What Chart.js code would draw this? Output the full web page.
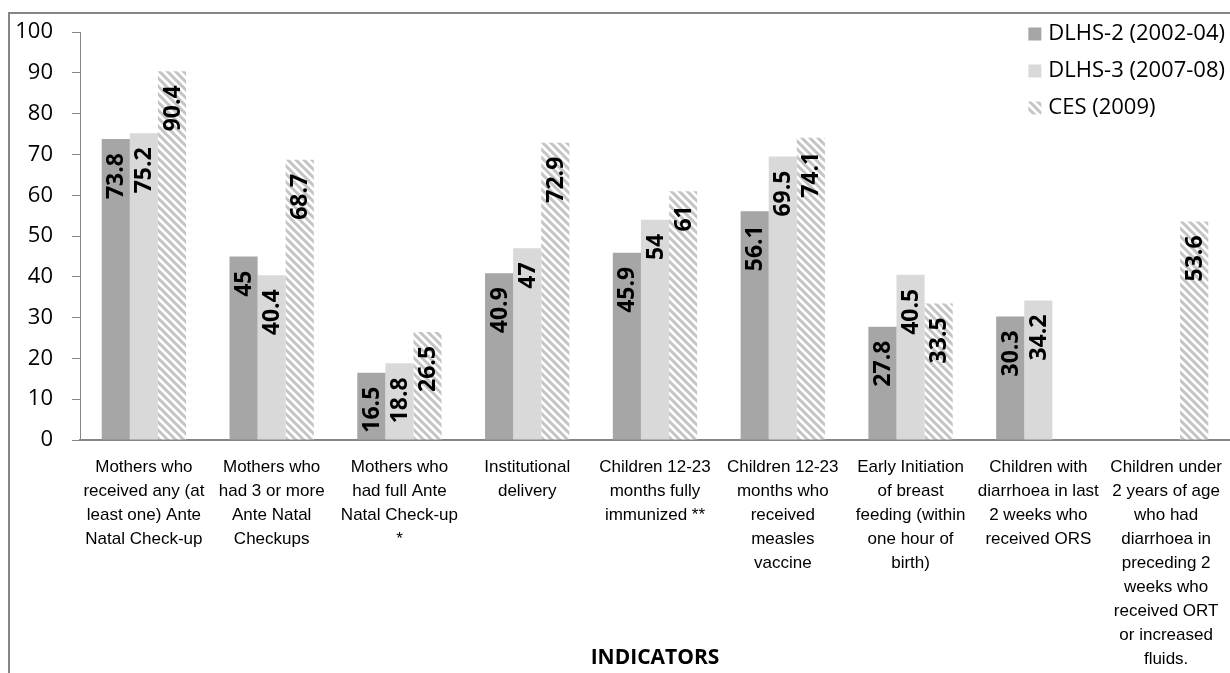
<!DOCTYPE html>
<html>
<head>
<meta charset="utf-8">
<script src="https://cdn.jsdelivr.net/npm/chart.js@4.4.1/dist/chart.umd.min.js"></script>
<style>
  html, body { margin: 0; padding: 0; background: #fff; }
  #wrap { width: 1230px; height: 673px; position: relative; }
</style>
</head>
<body>
<div id="wrap"><canvas id="c" width="1230" height="673"></canvas></div>
<script>
// Indicator names (multi-line axis labels)
const categories = [
  ['Mothers who', 'received any (at', 'least one) Ante', 'Natal Check-up'],
  ['Mothers who', 'had 3 or more', 'Ante Natal', 'Checkups'],
  ['Mothers who', 'had full Ante', 'Natal Check-up', '*'],
  ['Institutional', 'delivery'],
  ['Children 12-23', 'months fully', 'immunized **'],
  ['Children 12-23', 'months who', 'received', 'measles', 'vaccine'],
  ['Early Initiation', 'of breast', 'feeding (within', 'one hour of', 'birth)'],
  ['Children with', 'diarrhoea in last', '2 weeks who', 'received ORS'],
  ['Children under', '2 years of age', 'who had', 'diarrhoea in', 'preceding 2', 'weeks who', 'received ORT', 'or increased', 'fluids.']
];

// Survey rounds
const seriesNames = ['DLHS-2 (2002-04)', 'DLHS-3 (2007-08)', 'CES (2009)'];
const dlhs2 = [73.8, 45, 16.5, 40.9, 45.9, 56.1, 27.8, 30.3, null];
const dlhs3 = [75.2, 40.4, 18.8, 47, 54, 69.5, 40.5, 34.2, null];
const ces   = [90.4, 68.7, 26.5, 72.9, 61, 74.1, 33.5, null, 53.6];

// Value axis
const yMin = 0, yMax = 100, yStep = 10;
const xTitle = 'INDICATORS';

const AXIS_GREY = '#868686';
const LABEL_FONT = "'Open Sans', 'DejaVu Sans', sans-serif";

// Diagonal hatch fill used for the CES series
function makeHatch() {
  const s = 8;
  const p = document.createElement('canvas');
  p.width = s; p.height = s;
  const g = p.getContext('2d');
  g.fillStyle = '#ffffff';
  g.fillRect(0, 0, s, s);
  g.strokeStyle = '#c4c4c4';
  g.lineWidth = 3;
  g.beginPath();
  g.moveTo(-2, -2); g.lineTo(s + 2, s + 2);
  g.moveTo(-2, s - 2); g.lineTo(2, s + 2);
  g.moveTo(s - 2, -2); g.lineTo(s + 2, 2);
  g.stroke();
  return g.createPattern(p, 'repeat');
}
const hatch = makeHatch();

// Outer frame of the chart (left and top edges)
const framePlugin = {
  id: 'frame',
  beforeDraw(chart) {
    const ctx = chart.ctx;
    ctx.save();
    ctx.strokeStyle = AXIS_GREY;
    ctx.lineWidth = 2;
    ctx.beginPath();
    ctx.moveTo(9, chart.height);
    ctx.lineTo(9, 13);
    ctx.lineTo(chart.width, 13);
    ctx.stroke();
    ctx.restore();
  }
};

// Rotated value labels placed just inside the top of each bar
const valueLabels = {
  id: 'valueLabels',
  afterDatasetsDraw(chart) {
    const ctx = chart.ctx;
    ctx.save();
    ctx.font = "bold 23px " + LABEL_FONT;
    ctx.fillStyle = '#000';
    ctx.textAlign = 'right';
    ctx.textBaseline = 'middle';
    chart.data.datasets.forEach((ds, di) => {
      const meta = chart.getDatasetMeta(di);
      meta.data.forEach((bar, i) => {
        const v = ds.data[i];
        if (v === null || v === undefined) return;
        ctx.save();
        ctx.translate(bar.x + 1, bar.y + 14);
        ctx.rotate(-Math.PI / 2);
        ctx.fillText(String(v), 0, 0);
        ctx.restore();
      });
    });
    ctx.restore();
  }
};

// Legend in the top-right corner, stacked vertically
const cornerLegend = {
  id: 'cornerLegend',
  afterDraw(chart) {
    const ctx = chart.ctx;
    ctx.save();
    ctx.font = "22px " + LABEL_FONT;
    ctx.textBaseline = 'middle';
    ctx.textAlign = 'left';
    const widths = chart.data.datasets.map(d => ctx.measureText(d.label).width);
    const maxW = Math.max(...widths);
    const textX = 1225 - maxW;
    const box = 13;
    const rows = [34, 71, 108];
    chart.data.datasets.forEach((ds, i) => {
      const cy = rows[i];
      ctx.fillStyle = ds.backgroundColor;
      ctx.fillRect(textX - box - 7, cy - box / 2, box, box);
      ctx.fillStyle = '#000';
      ctx.fillText(ds.label, textX, cy);
    });
    ctx.restore();
  }
};

// Category axis title
const axisTitle = {
  id: 'axisTitle',
  afterDraw(chart) {
    const ctx = chart.ctx;
    ctx.save();
    ctx.font = "bold 21px " + LABEL_FONT;
    ctx.fillStyle = '#000';
    ctx.textAlign = 'center';
    ctx.textBaseline = 'middle';
    ctx.fillText(xTitle, 655, 658);
    ctx.restore();
  }
};

new Chart(document.getElementById('c'), {
  type: 'bar',
  data: {
    labels: categories,
    datasets: [
      { label: seriesNames[0], data: dlhs2, backgroundColor: '#a6a6a6' },
      { label: seriesNames[1], data: dlhs3, backgroundColor: '#d9d9d9' },
      { label: seriesNames[2], data: ces, backgroundColor: hatch }
    ]
  },
  options: {
    responsive: false,
    animation: false,
    devicePixelRatio: 1,
    layout: { padding: { top: 30, right: 0, left: 0, bottom: 0 } },
    datasets: {
      bar: { categoryPercentage: 0.66, barPercentage: 1.0, borderWidth: 0 }
    },
    plugins: {
      legend: { display: false },
      tooltip: { enabled: false }
    },
    scales: {
      x: {
        grid: { display: false, drawTicks: false },
        border: { color: AXIS_GREY, width: 2 },
        ticks: {
          color: '#000',
          font: { family: "'Liberation Sans', Arial, sans-serif", size: 17, lineHeight: 24 / 17 },
          padding: 15,
          maxRotation: 0,
          autoSkip: false
        },
        afterFit(s) { s.height = 233; s.paddingRight = 0; s.paddingLeft = 0; }
      },
      y: {
        min: yMin,
        max: yMax,
        ticks: {
          stepSize: yStep,
          color: '#000',
          font: { family: LABEL_FONT, size: 22 },
          padding: 19
        },
        grid: { drawOnChartArea: false, tickLength: 8, color: AXIS_GREY, lineWidth: 1 },
        border: { color: AXIS_GREY, width: 1 },
        afterFit(s) { s.width = 80; }
      }
    }
  },
  plugins: [framePlugin, valueLabels, cornerLegend, axisTitle]
});
</script>
</body>
</html>
